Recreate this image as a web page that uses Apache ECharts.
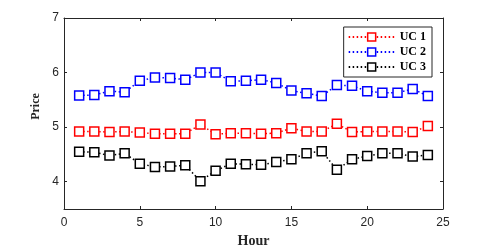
<!DOCTYPE html>
<html><head><meta charset="utf-8">
<script src="https://cdn.jsdelivr.net/npm/echarts@6/dist/echarts.min.js"></script>
<style>html,body{margin:0;padding:0;background:#fff}#c{width:491px;height:248px}</style>
</head><body><div id="c"></div>
<script>
const hours = [1,2,3,4,5,6,7,8,9,10,11,12,13,14,15,16,17,18,19,20,21,22,23,24];
const uc1 = [4.92,4.92,4.91,4.92,4.90,4.88,4.88,4.88,5.05,4.87,4.89,4.89,4.88,4.89,4.98,4.92,4.92,5.06,4.91,4.92,4.92,4.92,4.91,5.02];
const uc2 = [5.58,5.59,5.66,5.64,5.85,5.91,5.90,5.87,6.00,6.00,5.84,5.85,5.87,5.81,5.67,5.62,5.57,5.77,5.76,5.66,5.63,5.63,5.70,5.57];
const uc3 = [4.55,4.54,4.48,4.52,4.33,4.27,4.28,4.30,4.01,4.20,4.33,4.32,4.31,4.36,4.41,4.52,4.56,4.22,4.41,4.47,4.52,4.52,4.46,4.49];
const seriesNames = ['UC 1','UC 2','UC 3'];
const colors = ['#ff0000','#0000ff','#000000'];
const yTicks = [4,5,6,7];
const xTicks = [0,5,10,15,20,25];

const chart = echarts.init(document.getElementById('c'));
const axisColor = '#262626';
const tickFont = {fontFamily:'Liberation Sans, Arial, sans-serif', fontSize:12, color:axisColor};
const mk = (name, vals, color) => ({
  name, type:'line', data: hours.map((h,i)=>[h, vals[i]]),
  symbol:'rect', symbolSize:9,
  itemStyle:{color:'#fff', borderColor:color, borderWidth:1.5},
  lineStyle:{color, width:1.5, type:[1.5,2.5]},
  emphasis:{disabled:true}, animation:false
});
chart.setOption({
  animation:false,
  grid:{left:64,right:48,top:18,bottom:39,outerBoundsMode:'none',containLabel:false},
  legend:{
    right:59, top:27, orient:'vertical', itemGap:3,
    itemWidth:46, itemHeight:10,
    backgroundColor:'#fff', borderColor:axisColor, borderWidth:1, padding:[4,6,4,4],
    textStyle:{fontFamily:'Liberation Serif, Times New Roman, serif', fontWeight:'bold', fontSize:12, color:'#000'},
    data: seriesNames.map((n,i)=>({name:n, itemStyle:{color:'#fff', borderColor:colors[i], borderWidth:1.5}}))
  },
  xAxis:[{
    type:'value', min:0, max:25, interval:5,
    name:'Hour', nameLocation:'middle', nameGap:24,
    nameTextStyle:{fontFamily:'Liberation Serif, Times New Roman, serif', fontWeight:'bold', fontSize:14, color:'#262626'},
    axisLine:{show:true, onZero:false, lineStyle:{color:axisColor}},
    axisTick:{show:true, inside:true, length:3, lineStyle:{color:axisColor}},
    axisLabel:{...tickFont, margin:8},
    splitLine:{show:false}
  },{
    type:'value', position:'top', min:0, max:25, interval:5,
    axisLine:{show:true, onZero:false, lineStyle:{color:axisColor}},
    axisTick:{show:true, inside:true, length:3, lineStyle:{color:axisColor}},
    axisLabel:{show:false}, splitLine:{show:false}
  }],
  yAxis:[{
    type:'value', min:3.5, max:7,
    name:'Price', nameLocation:'middle', nameGap:22,
    nameTextStyle:{fontFamily:'Liberation Serif, Times New Roman, serif', fontWeight:'bold', fontSize:12, color:'#262626', padding:[0,0,0,14]},
    axisLine:{show:true, onZero:false, lineStyle:{color:axisColor}},
    axisTick:{show:true, inside:true, length:3, customValues:yTicks, lineStyle:{color:axisColor}},
    axisLabel:{...tickFont, margin:5, customValues:yTicks},
    splitLine:{show:false}
  },{
    type:'value', position:'right', min:3.5, max:7,
    axisLine:{show:true, onZero:false, lineStyle:{color:axisColor}},
    axisTick:{show:true, inside:true, length:3, customValues:yTicks, lineStyle:{color:axisColor}},
    axisLabel:{show:false, customValues:yTicks}, splitLine:{show:false}
  }],
  series:[mk(seriesNames[0],uc1,colors[0]), mk(seriesNames[1],uc2,colors[1]), mk(seriesNames[2],uc3,colors[2])]
});
</script></body></html>
